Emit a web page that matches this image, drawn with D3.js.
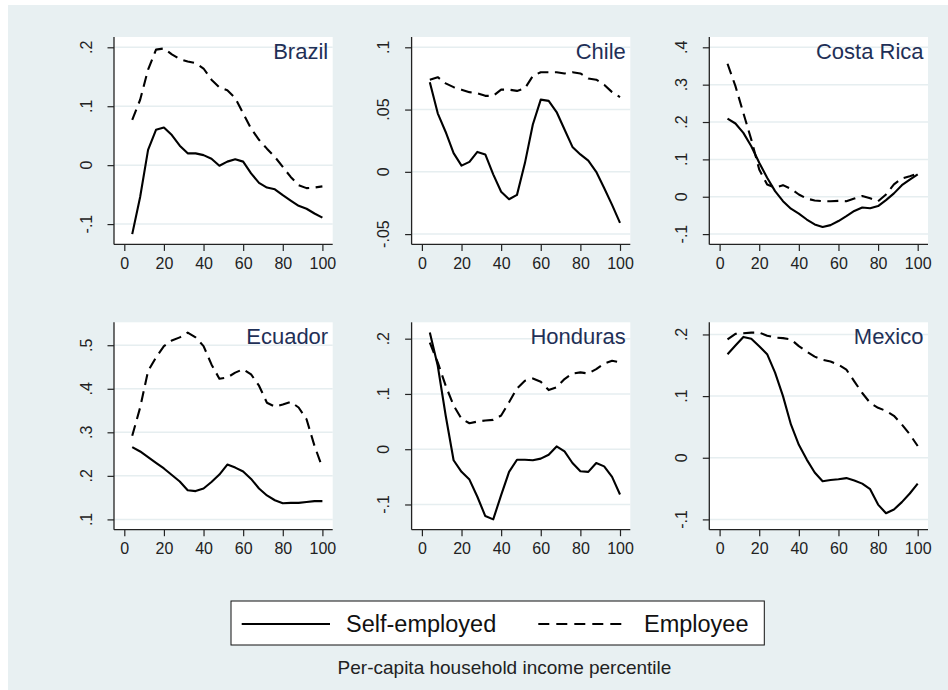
<!DOCTYPE html>
<html>
<head>
<meta charset="utf-8">
<script src="https://cdn.jsdelivr.net/npm/d3@7"></script>
<style>
  body { margin: 0; background: #fff; }
  svg { display: block; font-family: "Liberation Sans", Arial, sans-serif; }
</style>
</head>
<body>
<script>
// percentiles of per-capita household income (x values)
var percentiles = [4, 8, 12, 16, 20, 24, 28, 32, 36, 40, 44, 48, 52, 56, 60, 64, 68, 72, 76, 80, 84, 88, 92, 96, 100];
var xTicks = [0, 20, 40, 60, 80, 100];

var countries = ["Brazil", "Chile", "Costa Rica", "Ecuador", "Honduras", "Mexico"];

var brazilSelf = [-0.117, -0.054, 0.026, 0.060, 0.064, 0.051, 0.033, 0.020, 0.020, 0.017, 0.011, -0.001, 0.006, 0.010, 0.006, -0.014, -0.030, -0.038, -0.041, -0.051, -0.060, -0.069, -0.074, -0.082, -0.089];
var brazilEmp = [0.077, 0.111, 0.162, 0.196, 0.198, 0.188, 0.180, 0.176, 0.173, 0.164, 0.145, 0.132, 0.127, 0.114, 0.088, 0.062, 0.043, 0.028, 0.014, -0.003, -0.020, -0.034, -0.039, -0.038, -0.036];
var brazilTicks = [-0.1, 0, 0.1, 0.2];

var chileSelf = [0.072, 0.047, 0.032, 0.015, 0.005, 0.008, 0.016, 0.014, -0.002, -0.016, -0.022, -0.0185, 0.007, 0.038, 0.058, 0.057, 0.048, 0.034, 0.020, 0.014, 0.009, 0.000, -0.013, -0.0265, -0.041];
var chileEmp = [0.074, 0.076, 0.071, 0.068, 0.066, 0.064, 0.063, 0.061, 0.061, 0.066, 0.066, 0.065, 0.067, 0.077, 0.080, 0.080, 0.080, 0.079, 0.080, 0.079, 0.075, 0.074, 0.070, 0.064, 0.060];
var chileTicks = [-0.05, 0, 0.05, 0.1];

var costaRicaSelf = [0.209, 0.196, 0.171, 0.135, 0.091, 0.051, 0.015, -0.012, -0.032, -0.045, -0.061, -0.074, -0.081, -0.076, -0.065, -0.052, -0.038, -0.029, -0.031, -0.025, -0.009, 0.009, 0.031, 0.046, 0.060];
var costaRicaEmp = [0.356, 0.296, 0.224, 0.153, 0.073, 0.033, 0.024, 0.031, 0.021, 0.006, -0.005, -0.010, -0.012, -0.012, -0.011, -0.012, -0.005, 0.002, -0.004, -0.012, 0.006, 0.033, 0.049, 0.055, 0.062];
var costaRicaTicks = [-0.1, 0, 0.1, 0.2, 0.3, 0.4];

var ecuadorSelf = [0.266, 0.256, 0.243, 0.230, 0.217, 0.202, 0.187, 0.167, 0.165, 0.171, 0.186, 0.203, 0.226, 0.219, 0.210, 0.193, 0.171, 0.155, 0.144, 0.137, 0.138, 0.138, 0.140, 0.142, 0.142];
var ecuadorEmp = [0.292, 0.357, 0.441, 0.472, 0.498, 0.511, 0.518, 0.529, 0.518, 0.498, 0.456, 0.423, 0.426, 0.437, 0.445, 0.433, 0.407, 0.368, 0.359, 0.364, 0.370, 0.357, 0.330, 0.269, 0.219];
var ecuadorTicks = [0.1, 0.2, 0.3, 0.4, 0.5];

var hondurasSelf = [0.211, 0.151, 0.061, -0.020, -0.041, -0.055, -0.086, -0.121, -0.127, -0.083, -0.041, -0.019, -0.019, -0.020, -0.017, -0.010, 0.005, -0.004, -0.025, -0.040, -0.041, -0.025, -0.031, -0.050, -0.082];
var hondurasEmp = [0.193, 0.157, 0.115, 0.079, 0.055, 0.047, 0.050, 0.052, 0.053, 0.061, 0.085, 0.110, 0.124, 0.128, 0.122, 0.107, 0.112, 0.127, 0.137, 0.139, 0.137, 0.145, 0.155, 0.160, 0.157];
var hondurasTicks = [-0.1, 0, 0.1, 0.2];

var mexicoSelf = [0.168, 0.182, 0.196, 0.193, 0.181, 0.168, 0.138, 0.100, 0.054, 0.021, -0.003, -0.024, -0.038, -0.036, -0.035, -0.033, -0.037, -0.042, -0.051, -0.076, -0.090, -0.084, -0.072, -0.058, -0.042];
var mexicoEmp = [0.192, 0.201, 0.202, 0.203, 0.203, 0.198, 0.195, 0.194, 0.192, 0.181, 0.172, 0.164, 0.159, 0.156, 0.151, 0.143, 0.124, 0.105, 0.089, 0.081, 0.076, 0.068, 0.054, 0.038, 0.019];
var mexicoTicks = [-0.1, 0, 0.1, 0.2];

var legendLabels = ["Self-employed", "Employee"];
var xTitle = "Per-capita household income percentile";

var selfSeries = [brazilSelf, chileSelf, costaRicaSelf, ecuadorSelf, hondurasSelf, mexicoSelf];
var empSeries = [brazilEmp, chileEmp, costaRicaEmp, ecuadorEmp, hondurasEmp, mexicoEmp];
var yTickSets = [brazilTicks, chileTicks, costaRicaTicks, ecuadorTicks, hondurasTicks, mexicoTicks];

var width = 948, height = 690;
var bg = "#e8f0f2";

var svg = d3.select("body").append("svg")
    .attr("width", width)
    .attr("height", height);

// stata graph region, offset a little from the top-left
svg.append("rect")
    .attr("x", 8).attr("y", 5)
    .attr("width", width - 8).attr("height", height - 5)
    .attr("fill", bg);

var colLeft = [114, 411.6, 709.3],
    rowTop = [37, 322.3],
    plotW = 218.7,
    plotH = 207.4,
    margin = 10.3;   // inner margin of each plot region

// stata style labels: .2 / -.1 / 0
function stataFmt(v) {
    var s = String(+v.toFixed(3));
    return s.replace(/^0\./, ".").replace(/^-0\./, "-.");
}

countries.forEach(function(name, i) {
    var left = colLeft[i % 3],
        top = rowTop[Math.floor(i / 3)],
        right = left + plotW,
        bottom = top + plotH;
    var ticks = yTickSets[i];
    var all = selfSeries[i].concat(empSeries[i]).concat(ticks);

    var x = d3.scaleLinear().domain([0, 100]).range([left + margin, right - margin]);
    var y = d3.scaleLinear().domain(d3.extent(all)).range([bottom - margin, top + margin]);

    var g = svg.append("g").attr("class", "panel");

    g.append("rect")
        .attr("x", left).attr("y", top)
        .attr("width", plotW).attr("height", plotH)
        .attr("fill", "#fff");

    // grid lines
    g.selectAll("line.grid")
        .data(ticks)
        .enter().append("line")
        .attr("class", "grid")
        .attr("x1", left).attr("x2", right)
        .attr("y1", function(d) { return y(d); })
        .attr("y2", function(d) { return y(d); })
        .attr("stroke", "#e6eef0")
        .attr("stroke-width", 1.5);

    // y axis
    var yAxis = g.append("g")
        .attr("transform", "translate(" + left + ",0)")
        .call(d3.axisLeft(y).tickValues(ticks).tickSize(6.5).tickFormat(""));
    yAxis.select(".domain").remove();
    yAxis.append("line")
        .attr("x1", 0).attr("x2", 0)
        .attr("y1", top).attr("y2", bottom)
        .attr("stroke", "#222").attr("stroke-width", 1.3);
    yAxis.selectAll(".tick line").attr("stroke", "#222").attr("stroke-width", 1.2);
    yAxis.selectAll("text.ylab")
        .data(ticks)
        .enter().append("text")
        .attr("class", "ylab")
        .attr("transform", function(d) { return "translate(-22.3," + y(d) + ") rotate(-90)"; })
        .attr("text-anchor", "middle")
        .attr("font-size", "16px")
        .attr("fill", "#222")
        .text(stataFmt);

    // x axis
    var xAxis = g.append("g")
        .attr("transform", "translate(0," + bottom + ")")
        .call(d3.axisBottom(x).tickValues(xTicks).tickSize(6.5).tickPadding(6.5));
    xAxis.select(".domain").remove();
    xAxis.append("line")
        .attr("x1", left).attr("x2", right)
        .attr("y1", 0).attr("y2", 0)
        .attr("stroke", "#222").attr("stroke-width", 1.3);
    xAxis.selectAll(".tick line").attr("stroke", "#222").attr("stroke-width", 1.2);
    xAxis.selectAll(".tick text")
        .attr("font-size", "16px")
        .attr("font-family", "Liberation Sans, Arial, sans-serif")
        .attr("fill", "#222");

    var line = d3.line()
        .x(function(d, j) { return x(percentiles[j]); })
        .y(function(d) { return y(d); });

    g.append("path")
        .datum(selfSeries[i])
        .attr("d", line)
        .attr("fill", "none")
        .attr("stroke", "#000")
        .attr("stroke-width", 2.1)
        .attr("stroke-linejoin", "round");

    g.append("path")
        .datum(empSeries[i])
        .attr("d", line)
        .attr("fill", "none")
        .attr("stroke", "#000")
        .attr("stroke-width", 2.1)
        .attr("stroke-dasharray", "11,6.5")
        .attr("stroke-linejoin", "round");

    // panel title, top right
    g.append("text")
        .attr("x", right - 4.5)
        .attr("y", top + 22)
        .attr("text-anchor", "end")
        .attr("font-size", "22px")
        .attr("fill", "#1f3057")
        .text(name);
});

// legend
var legend = svg.append("g").attr("class", "legend");
legend.append("rect")
    .attr("x", 231).attr("y", 601)
    .attr("width", 533.3).attr("height", 44)
    .attr("fill", "#fff")
    .attr("stroke", "#111").attr("stroke-width", 1);

var legendItems = [
    {x1: 241.7, x2: 330, tx: 346, dash: null},
    {x1: 538.3, x2: 628.3, tx: 644, dash: "11,7"}
];
legendItems.forEach(function(d, i) {
    legend.append("line")
        .attr("x1", d.x1).attr("x2", d.x2)
        .attr("y1", 624).attr("y2", 624)
        .attr("stroke", "#000")
        .attr("stroke-width", 2.2)
        .attr("stroke-dasharray", d.dash);
    legend.append("text")
        .attr("x", d.tx).attr("y", 631.7)
        .attr("font-size", "23.5px")
        .attr("fill", "#111")
        .text(legendLabels[i]);
});

svg.append("text")
    .attr("x", 504.5).attr("y", 674)
    .attr("text-anchor", "middle")
    .attr("font-size", "19px")
    .attr("fill", "#222")
    .text(xTitle);
</script>
</body>
</html>
